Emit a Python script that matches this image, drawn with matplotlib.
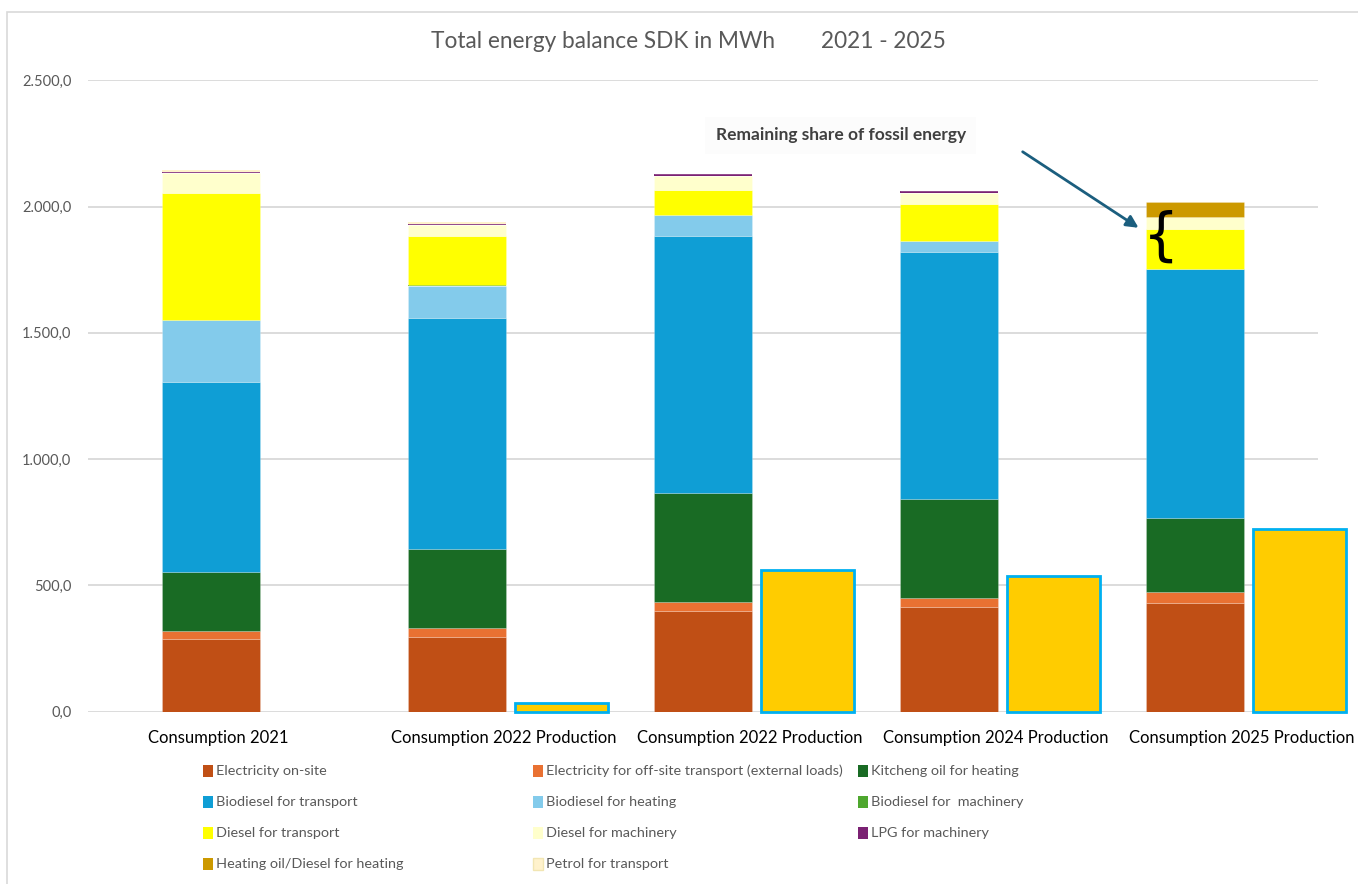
import numpy as np
import matplotlib.pyplot as plt
from matplotlib.patches import Rectangle
from matplotlib.ticker import FuncFormatter

# categories and stacked consumption series (MWh)
categories = ["Consumption 2021", "Consumption 2022 Production", "Consumption 2022 Production",
              "Consumption 2024 Production", "Consumption 2025 Production"]

series_names = ["Electricity on-site",
                "Electricity for off-site transport (external loads)",
                "Kitcheng oil for heating",
                "Biodiesel for transport",
                "Biodiesel for heating",
                "Biodiesel for  machinery",
                "Diesel for transport",
                "Diesel for machinery",
                "LPG for machinery",
                "Heating oil/Diesel for heating",
                "Petrol for transport"]

elec_onsite = [289, 294, 397, 413, 429]
elec_offsite = [29, 39, 39, 39, 44]
kitchen_oil = [234, 313, 430, 390, 293]
biodiesel_transport = [755, 912, 1016, 980, 985]
biodiesel_heating = [245, 126, 83, 40, 0]
biodiesel_machinery = [0, 6, 0, 0, 0]
diesel_transport = [501, 193, 102, 147, 161]
diesel_machinery = [80, 44, 53, 43, 45]
lpg_machinery = [3, 3, 8, 8, 0]
heating_oil = [0, 0, 0, 0, 60]
petrol_transport = [9, 8, 0, 0, 0]

# on-site production (MWh), none in 2021
production = [np.nan, 35, 563, 539, 723]

series_colors = ["#C04F15", "#E97132", "#196B24", "#0F9ED5", "#83CBEB", "#4EA72E",
                 "#FFFF00", "#FFFFCC", "#7B2173", "#CC9900", "#FFF2CC"]

stack = [elec_onsite, elec_offsite, kitchen_oil, biodiesel_transport, biodiesel_heating,
         biodiesel_machinery, diesel_transport, diesel_machinery, lpg_machinery,
         heating_oil, petrol_transport]

W, H = 1358, 884
fig = plt.figure(figsize=(W / 100, H / 100), dpi=100)
ax = fig.add_axes([88 / W, 1 - 711.7 / H, (1318 - 88) / W, (711.7 - 80.3) / H])

x = np.arange(len(categories))
bottom = np.zeros(len(categories))
for vals, color in zip(stack, series_colors):
    vals = np.array(vals, dtype=float)
    # thin segments get no separator line so they stay visible
    edge = "none" if vals.max() < 20 else (1, 1, 1, 0.35)
    ax.bar(x, vals, width=0.40, bottom=bottom, color=color,
           edgecolor=edge, linewidth=0.4, zorder=3)
    bottom += vals

# production bars sit to the right of each consumption bar
ax.bar(x + 0.425, production, width=0.375, color="#FFCC00", edgecolor="#00B0F0",
       linewidth=2.0, zorder=3, clip_on=False)

ax.set_xlim(-0.5, 4.5)
ax.set_ylim(0, 2500)
ax.set_yticks(np.arange(0, 2501, 500))
ax.yaxis.set_major_formatter(FuncFormatter(
    lambda v, p: f"{v:,.1f}".replace(",", "X").replace(".", ",").replace("X", ".")))
ax.grid(axis="y", color="#D9D9D9", linewidth=1.3, zorder=0)
for s in ax.spines.values():
    s.set_visible(False)
ax.tick_params(axis="y", length=0, pad=12, labelsize=10.5, labelcolor="#595959")
for lab in ax.get_yticklabels():
    lab.set_family("Lato")

label_pos = [i + (0.19 if not np.isnan(p) else 0.03) for i, p in zip(x, production)]
ax.set_xticks(label_pos)
ax.set_xticklabels(categories, fontsize=12, family="Lato", color="black")
ax.tick_params(axis="x", length=0, pad=13)

# title
fig.text(688 / W, 1 - 42 / H, "Total energy balance SDK in MWh        2021 - 2025",
         ha="center", va="center", fontsize=16.3, color="#595959", family="Lato")

# fossil share annotation
ax.text(2.56, 2283, "Remaining share of fossil energy", ha="center", va="center",
        fontsize=12.5, color="#404040", family="Lato", fontweight="bold",
        bbox=dict(boxstyle="square,pad=0.6", facecolor="#FCFCFC", edgecolor="none"))
ax.annotate("", xy=(3.78, 1910), xytext=(3.29, 2223),
            arrowprops=dict(arrowstyle="-|>", color="#1B5E7E", lw=2, mutation_scale=18),
            annotation_clip=False)
ax.text(3.86, 1880, "{", ha="center", va="center", fontsize=41, color="black",
        family="DejaVu Sans", zorder=5)

# legend drawn as a three-column grid
col_x = [203, 533, 858]
row_y = [771, 802, 833, 864]
for i, (name, color) in enumerate(zip(series_names, series_colors)):
    cx = col_x[i % 3]
    cy = row_y[i // 3]
    fig.add_artist(Rectangle((cx / W, 1 - (cy + 6) / H), 10 / W, 12 / H,
                             facecolor=color, edgecolor="#F2E6B3" if color == "#FFF2CC" else "none",
                             transform=fig.transFigure))
    fig.text((cx + 13) / W, 1 - cy / H, name, ha="left", va="center",
             fontsize=10.4, color="#595959", family="Lato")

# outer chart frame
fig.add_artist(Rectangle((7 / W, -0.05), 1.1, 1 - 12 / H + 0.05, fill=False,
                         edgecolor="#D9D9D9", linewidth=1.2, transform=fig.transFigure))

fig.savefig("out.png", dpi=100)
